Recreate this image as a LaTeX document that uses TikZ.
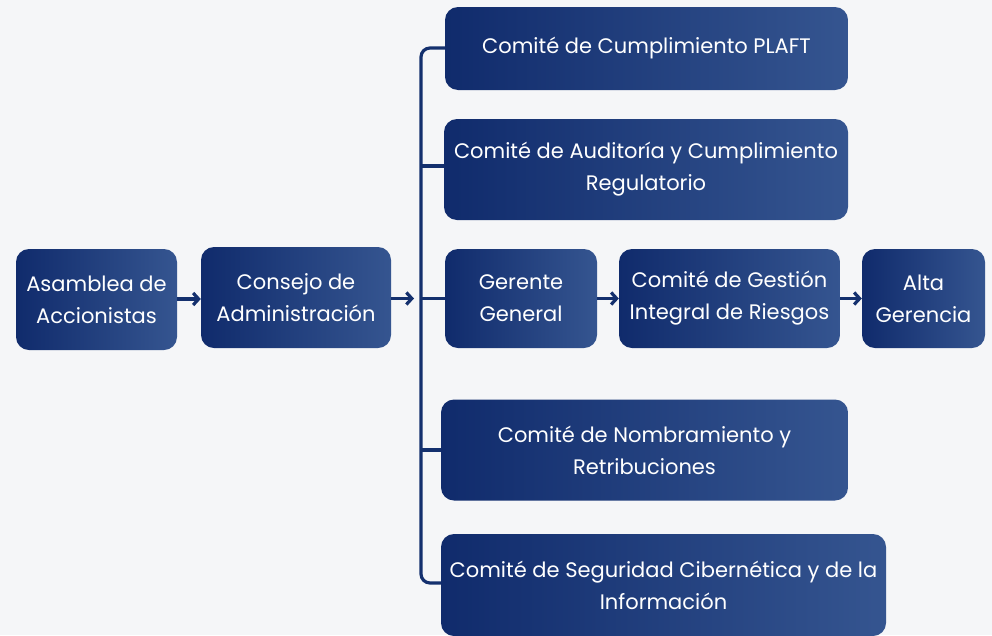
\documentclass[tikz,border=0pt]{standalone}
\usepackage{fontspec}
\setmainfont{Poppins}
\usetikzlibrary{arrows.meta}
\definecolor{bgc}{HTML}{F5F6F8}
\definecolor{boxa}{HTML}{102B6C}
\definecolor{boxb}{HTML}{355590}
\definecolor{linec}{HTML}{14306E}
\tikzset{
  orgbox/.style={rounded corners=13pt, left color=boxa, right color=boxb,
    text=white, align=center, inner sep=0pt,
    font=\fontsize{21}{32}\selectfont},
  conn/.style={draw=linec, line width=3.2pt},
  arr/.style={conn, -{Straight Barb[length=5.5pt,width=12pt,line width=3.2pt]}},
}
\begin{document}
\begin{tikzpicture}[x=1pt,y=-1pt]
\fill[bgc] (0,0) rectangle (992,635);
\useasboundingbox (0,0) rectangle (992,635);

\node[orgbox, minimum width=161pt, minimum height=101pt] (asam) at (96.5,299.5) {Asamblea de\\Accionistas};
\node[orgbox, minimum width=190pt, minimum height=101pt] (cons) at (296,297.5) {Consejo de\\Administración};
\node[orgbox, minimum width=403pt, minimum height=83pt] (plaft) at (646.5,48.5) {Comité de Cumplimiento PLAFT};
\node[orgbox, minimum width=404pt, minimum height=101pt] (aud) at (646,169.5) {Comité de Auditoría y Cumplimiento\\Regulatorio};
\node[orgbox, minimum width=152pt, minimum height=99pt] (ger) at (521,298.5) {Gerente\\General};
\node[orgbox, minimum width=221pt, minimum height=99pt] (gest) at (729.5,298.5) {Comité de Gestión\\Integral de Riesgos};
\node[orgbox, minimum width=123pt, minimum height=99pt] (alta) at (923.5,298.5) {Alta\\Gerencia};
\node[orgbox, minimum width=407pt, minimum height=101pt] (nomb) at (644.5,450) {Comité de Nombramiento y\\Retribuciones};
\node[orgbox, minimum width=445pt, minimum height=102pt] (seg) at (663.5,585) {Comité de Seguridad Cibernética y de la\\Información};

\coordinate (ttop) at (421,48);
\coordinate (tbot) at (421,583);
\coordinate (tin) at (414,298.5);

\draw[arr] (asam.east |- 0,299) -- (cons.west |- 0,299);
\draw[arr] (cons.east |- tin) -- (tin);
\draw[arr] (ger.east) -- (gest.west);
\draw[arr] (gest.east) -- (alta.west);

\draw[conn, rounded corners=9pt] (plaft.west |- ttop) -- (ttop) -- (tbot) -- (seg.west |- tbot);
\draw[conn] (ttop |- 0,166) -- (aud.west |- 0,166);
\draw[conn] (ttop |- ger.west) -- (ger.west);
\draw[conn] (ttop |- nomb.west) -- (nomb.west);
\end{tikzpicture}
\end{document}
